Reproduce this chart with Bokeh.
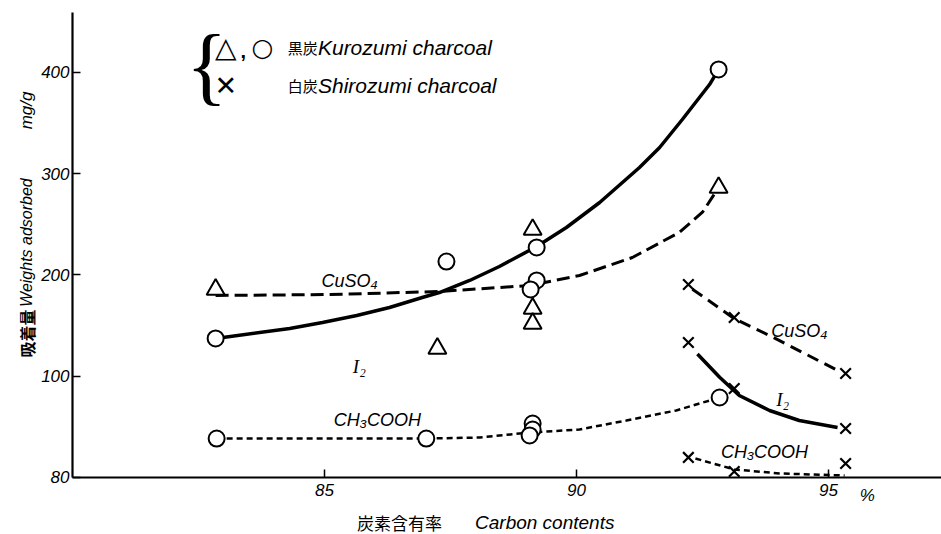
from math import pi

from bokeh.embed import file_html
from bokeh.models import FixedTicker, Label, Range1d
from bokeh.plotting import figure
from bokeh.resources import INLINE

# ---- data: carbon content (%) vs. weight adsorbed (mg/g) ----
# Kurozumi charcoal, CuSO4 (triangles)
kuro_cuso4_x = [82.84, 87.24, 89.13, 89.13, 89.13, 92.82]
kuro_cuso4_y = [185.7, 127.4, 244.9, 166.9, 152.1, 286.4]
# Kurozumi charcoal, I2 (circles)
kuro_i2_x = [82.84, 87.42, 89.21, 89.21, 89.09, 92.82]
kuro_i2_y = [137.3, 213.3, 227.2, 194.6, 185.7, 403.0]
# Kurozumi charcoal, CH3COOH (circles)
kuro_ac_x = [82.86, 87.02, 89.13, 89.13, 89.07, 92.84]
kuro_ac_y = [38.5, 38.5, 53.3, 47.4, 41.5, 79.0]
# Shirozumi charcoal (crosses)
shiro_x = [92.22, 93.13, 95.34]
shiro_cuso4_y = [190.6, 158.0, 102.7]
shiro_i2_y = [133.3, 87.9, 48.4]
shiro_ac_y = [19.8, 5.9, 13.8]

# ---- hand-drawn trend curves ----
kuro_i2_curve_x = [82.84, 84.31, 84.96, 85.64, 86.29, 86.94, 87.28, 87.88, 88.47,
                   89.21, 89.80, 90.46, 91.25, 91.65, 92.10, 92.64, 92.82]
kuro_i2_curve_y = [137.3, 147.2, 153.1, 160.0, 167.9, 177.8, 182.7, 194.6, 208.4,
                   228.1, 246.9, 271.6, 306.2, 325.9, 353.6, 388.1, 403.0]
kuro_cuso4_curve_x = [82.84, 85.10, 87.28, 89.07, 90.06, 91.11, 92.04, 92.50, 92.82]
kuro_cuso4_curve_y = [179.8, 180.7, 183.7, 189.6, 199.5, 217.3, 242.0, 262.0, 286.4]
kuro_ac_curve_x = [82.86, 87.02, 88.08, 89.07, 90.06, 90.99, 91.98, 92.84]
kuro_ac_curve_y = [38.5, 38.5, 39.5, 44.4, 47.4, 56.3, 66.2, 79.0]
shiro_cuso4_curve_x = [92.30, 93.13, 93.83, 95.25]
shiro_cuso4_curve_y = [186.0, 157.0, 140.2, 104.0]
shiro_i2_curve_x = [92.40, 92.84, 93.23, 93.83, 94.42, 95.18]
shiro_i2_curve_y = [122.0, 99.0, 81.0, 66.2, 56.3, 49.4]
shiro_ac_curve_x = [92.36, 93.13, 94.03, 95.32]
shiro_ac_curve_y = [18.8, 7.9, 4.0, 2.0]

x_ticks = [85, 90, 95]
y_ticks = [0, 100, 200, 300, 400]
y_tick_labels = {0: "80"}

SANS = "Liberation Sans"
SERIF = "Liberation Serif"
CJK = "Noto Sans CJK JP"

# the frame fills the page; axes are pinned inside it
p = figure(
    width=941, height=534, output_backend="svg", toolbar_location=None,
    x_range=Range1d(78.5714, 97.2425), y_range=Range1d(-56.30, 471.11),
    min_border=0, min_border_left=0, min_border_right=0,
    min_border_top=0, min_border_bottom=0,
)
p.outline_line_color = None
p.xgrid.visible = False
p.ygrid.visible = False
p.background_fill_color = "white"
p.border_fill_color = "white"

p.xaxis.fixed_location = 0
p.yaxis.fixed_location = 80
p.xaxis.bounds = (80, 97.2425)
p.yaxis.bounds = (0, 459)

for ax in (p.xaxis[0], p.yaxis[0]):
    ax.axis_line_width = 2.2
    ax.axis_line_color = "black"
    ax.major_tick_in = 8
    ax.major_tick_out = 0
    ax.major_tick_line_width = 1.5
    ax.minor_tick_line_color = None
    ax.major_label_text_font = SANS
    ax.major_label_text_font_style = "italic"
    ax.major_label_text_font_size = "17px"
    ax.major_label_text_color = "black"

p.xaxis.ticker = FixedTicker(ticks=x_ticks)
p.yaxis.ticker = FixedTicker(ticks=y_ticks)
p.yaxis.major_label_overrides = y_tick_labels
p.xaxis.major_label_standoff = 7
p.yaxis.major_label_standoff = 3

# curves
p.line(kuro_i2_curve_x, kuro_i2_curve_y, line_color="black", line_width=3.5)
p.line(kuro_cuso4_curve_x, kuro_cuso4_curve_y, line_color="black", line_width=3, line_dash="13 6")
p.line(kuro_ac_curve_x, kuro_ac_curve_y, line_color="black", line_width=2.5, line_dash="6 4")
p.line(shiro_cuso4_curve_x, shiro_cuso4_curve_y, line_color="black", line_width=3, line_dash="12 7")
p.line(shiro_i2_curve_x, shiro_i2_curve_y, line_color="black", line_width=3.5)
p.line(shiro_ac_curve_x, shiro_ac_curve_y, line_color="black", line_width=2.5, line_dash="6 4")

# points
p.scatter(kuro_cuso4_x, kuro_cuso4_y, marker="triangle", size=18, fill_color="white",
          line_color="black", line_width=2)
p.scatter(kuro_i2_x, kuro_i2_y, marker="circle", size=16, fill_color="white",
          line_color="black", line_width=2)
p.scatter(kuro_ac_x, kuro_ac_y, marker="circle", size=16, fill_color="white",
          line_color="black", line_width=2)
for ys in (shiro_cuso4_y, shiro_i2_y, shiro_ac_y):
    p.scatter(shiro_x, ys, marker="x", size=15, line_color="black", line_width=2.2)


def label(x, y, text, font=SANS, size="18px", style="italic", angle=0.0,
          align="center", baseline="middle"):
    p.add_layout(Label(x=x, y=y, text=text, text_font=font, text_font_size=size,
                       text_font_style=style, text_color="black", angle=angle,
                       text_align=align, text_baseline=baseline))


# curve names
label(85.5, 193.6, "CuSO₄")
label(85.69, 109.6, "I₂", font=SERIF, size="19px")
label(86.05, 56.3, "CH₃COOH")
label(94.42, 145.0, "CuSO₄")
label(94.09, 77.0, "I₂", font=SERIF, size="19px")
label(93.73, 24.7, "CH₃COOH")

# legend
label(82.66, 407.0, "{", font=SERIF, size="86px", style="normal")
label(83.04, 424.7, "△", font="DejaVu Sans", size="28px", style="normal")
label(83.39, 421.0, ",", font=SANS, size="20px", style="bold")
label(83.77, 424.7, "○", font="DejaVu Sans", size="25px", style="normal")
label(83.04, 387.2, "✕", font="DejaVu Sans", size="27px", style="normal")
label(84.27, 424.7, "黒炭", font=CJK, size="15px", style="normal", align="left")
label(84.27, 387.2, "白炭", font=CJK, size="15px", style="normal", align="left")
label(84.87, 424.7, "Kurozumi charcoal", size="21px", align="left")
label(84.87, 387.2, "Shirozumi charcoal", size="21px", align="left")

# axis titles
label(86.49, -44.4, "炭素含有率", font=CJK, size="17px", style="normal")
label(89.37, -44.4, "Carbon contents", size="19px")
label(95.77, -17.8, "%", size="17px")
label(79.09, 142.2, "吸着量", font=CJK, size="16px", style="bold", angle=pi / 2)
label(79.09, 232.0, "Weights adsorbed", size="16px", angle=pi / 2)
label(79.09, 362.5, "mg/g", size="17px", angle=pi / 2)

open("out.html", "w").write(file_html(p, INLINE))
